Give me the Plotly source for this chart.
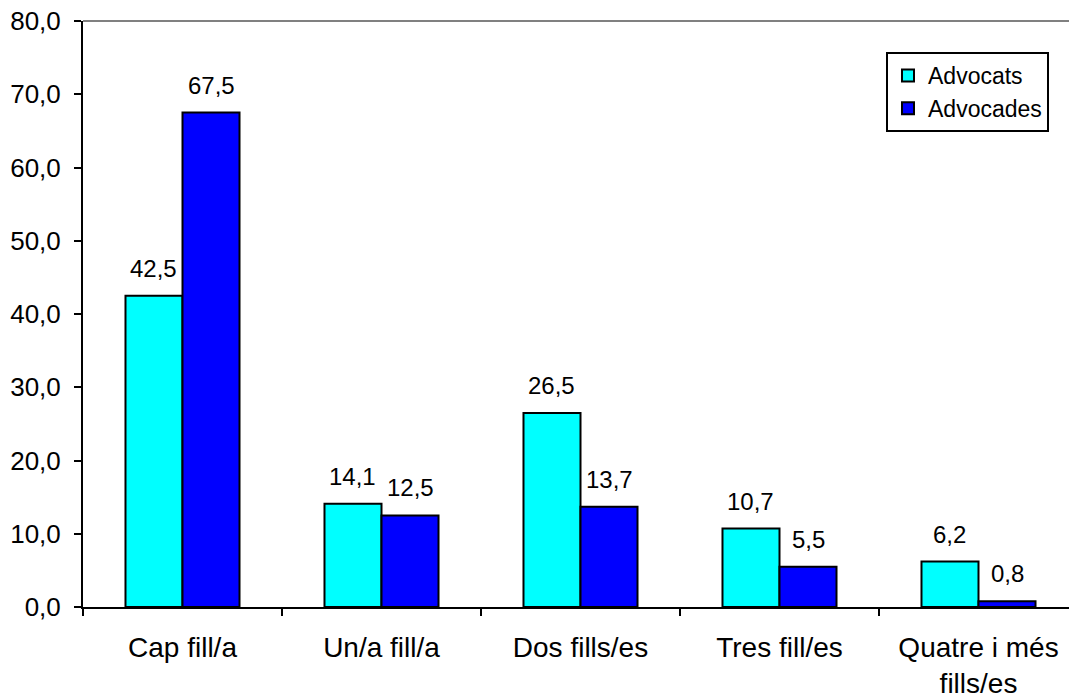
import plotly.graph_objects as go

categories = ["Cap fill/a", "Un/a fill/a", "Dos fills/es", "Tres fill/es", "Quatre i més<br>fills/es"]
advocats = [42.5, 14.1, 26.5, 10.7, 6.2]
advocades = [67.5, 12.5, 13.7, 5.5, 0.8]
series_names = ["Advocats", "Advocades"]
y_ticks = [0, 10, 20, 30, 40, 50, 60, 70, 80]

W, H = 1069, 697
ML, MT, MB, MR = 83, 21, 90, 0
cat_px = 199.0
plot_w = W - ML - MR
plot_h = H - MT - MB
x_max = -0.5 + plot_w / cat_px
bargap = 0.427
bar_frac = (1 - bargap) / 2
FONT = "Liberation Sans, Arial, sans-serif"

fig = go.Figure()
fig.add_trace(go.Bar(x=categories, y=advocats, name=series_names[0],
                     marker=dict(color="#00FFFF", line=dict(color="black", width=2))))
fig.add_trace(go.Bar(x=categories, y=advocades, name=series_names[1],
                     marker=dict(color="#0000FF", line=dict(color="black", width=2))))

def fmt(v):
    return f"{v:.1f}".replace(".", ",")

shift = bar_frac * cat_px / 2
for vals, sgn in ((advocats, -1), (advocades, 1)):
    for c, v in zip(categories, vals):
        fig.add_annotation(x=c, y=v, xref="x", yref="y", text=fmt(v), showarrow=False,
                           xshift=sgn * shift, yshift=12, yanchor="bottom",
                           font=dict(family=FONT, size=24, color="black"))

fig.add_shape(type="line", xref="paper", yref="paper", x0=0, x1=1, y0=1, y1=1,
              line=dict(color="#808080", width=2))

fig.update_layout(
    width=W, height=H,
    margin=dict(l=ML, r=MR, t=MT, b=MB, autoexpand=False),
    paper_bgcolor="white", plot_bgcolor="white",
    barmode="group", bargap=bargap, bargroupgap=0,
    separators=",.",
    font=dict(family=FONT, color="black"),
    legend=dict(x=(886 - ML) / plot_w, y=(MT + plot_h - 52) / plot_h, xanchor="left", yanchor="top",
                bordercolor="black", borderwidth=2, bgcolor="white",
                font=dict(family=FONT, size=23, color="black"),
                tracegroupgap=0),
    xaxis=dict(type="category", range=[-0.5, x_max], showline=True, linecolor="black", linewidth=2,
               ticks="outside", tickson="boundaries", ticklen=7, tickwidth=2, tickcolor="black",
               showgrid=False, tickfont=dict(family=FONT, size=28, color="black"),
               ticklabelstandoff=14, automargin=False),
    yaxis=dict(range=[0, 80], tickvals=y_ticks, tickformat=".1f", showline=True, linecolor="black",
               linewidth=2, ticks="outside", ticklen=7, tickwidth=2, tickcolor="black",
               showgrid=False, zeroline=False, tickfont=dict(family=FONT, size=26, color="black"),
               ticklabelstandoff=8, automargin=False),
)

fig.write_html("out.html", config={"displayModeBar": False},
               post_script="document.body.style.margin='0';document.body.style.overflow='hidden';")
